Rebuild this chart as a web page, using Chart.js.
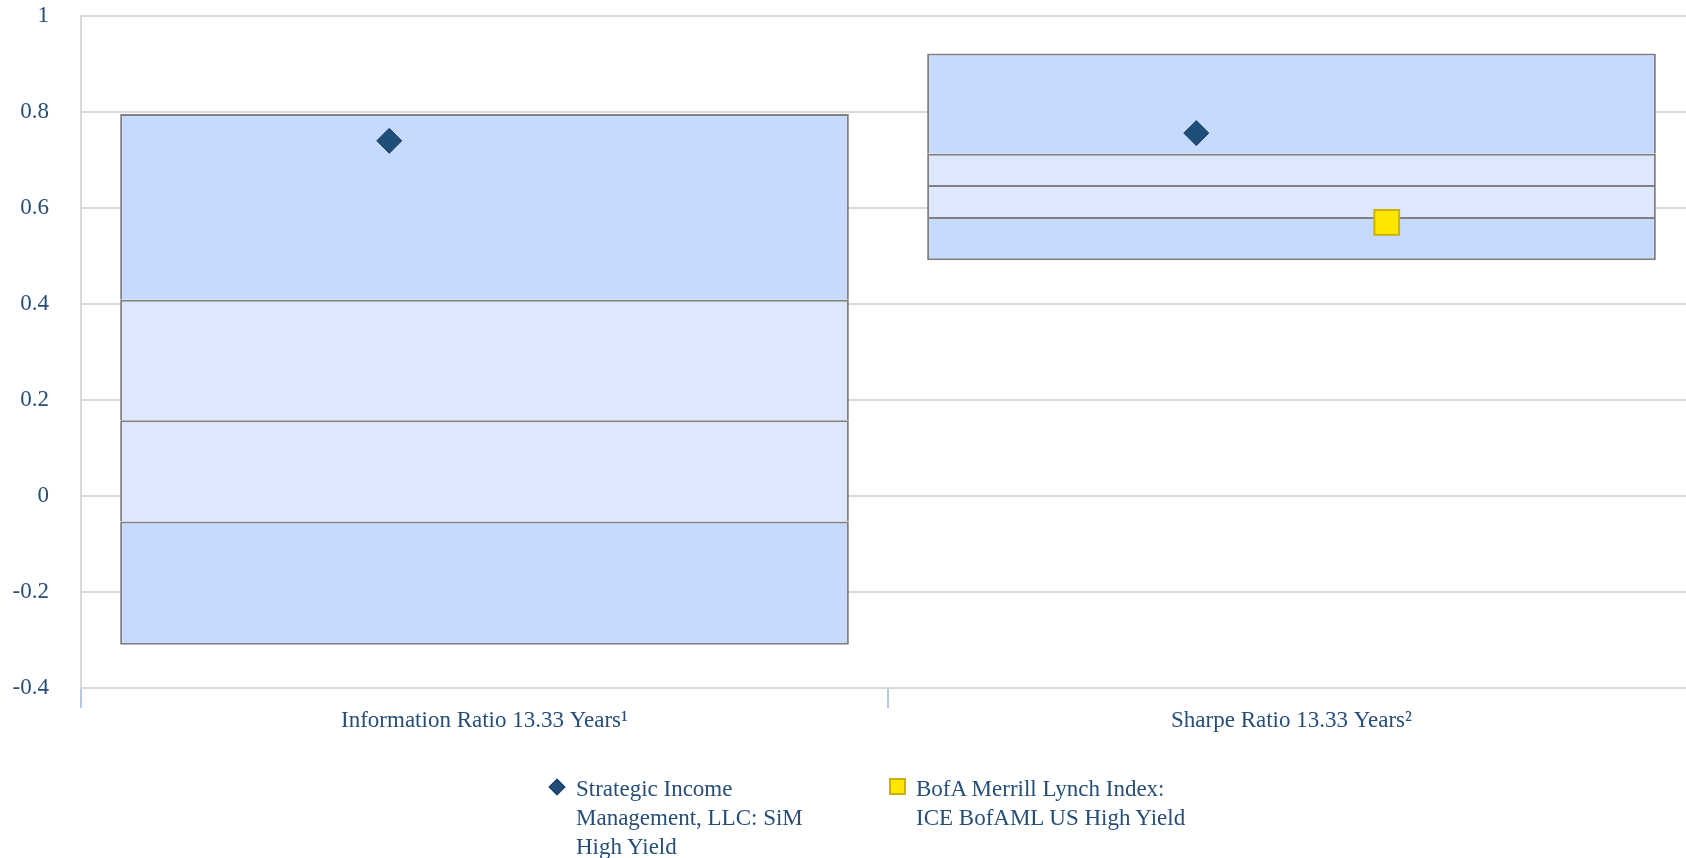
<!DOCTYPE html>
<html>
<head>
<meta charset="utf-8">
<script src="https://cdn.jsdelivr.net/npm/chart.js@4/dist/chart.umd.min.js"></script>
<style>
body { margin: 0; background: #fff; overflow: hidden; }
#wrap { position: relative; width: 1686px; height: 858px; overflow: hidden; }
canvas { display: block; }
.item { position: absolute; font-family: "Liberation Serif", serif; font-size: 23px; line-height: 29px; color: #264e78; }
.item .txt { position: absolute; left: 27px; top: 0; white-space: nowrap; }
.diamond { position: absolute; left: 2px; top: 7px; width: 10px; height: 10px; background: #1f4e79; border: 1px solid #183c60; transform: rotate(45deg); }
.square { position: absolute; left: 0; top: 4px; width: 13px; height: 13px; background: #ffe600; border: 2px solid #c9b300; }
</style>
</head>
<body>
<div id="wrap">
  <canvas id="chart" width="1695" height="858"></canvas>
  <div class="item" style="left:549px; top:774px;">
    <div class="diamond"></div>
    <div class="txt">Strategic Income<br>Management, LLC: SiM<br>High Yield</div>
  </div>
  <div class="item" style="left:889px; top:774px;">
    <div class="square"></div>
    <div class="txt">BofA Merrill Lynch Index:<br>ICE BofAML US High Yield</div>
  </div>
</div>
<script>
var categories = ['Information Ratio 13.33 Years\u00b9', 'Sharpe Ratio 13.33 Years\u00b2'];
var bandMin = [-0.310, 0.491];
var bandP25 = [-0.053, 0.581];
var bandMed = [0.158, 0.648];
var bandP75 = [0.409, 0.713];
var bandMax = [0.796, 0.922];
var simValues = [0.740, 0.756];
var indexValues = [null, 0.570];

var outerFill = '#c6d9fe';
var innerFill = '#dde7fe';
var textColor = '#264e78';

function band(lo, hi, color, skip) {
    var d = [];
    for (var i = 0; i < categories.length; i++) d.push([lo[i], hi[i]]);
    return {
        type: 'bar',
        data: d,
        backgroundColor: color,
        borderColor: '#808080',
        borderWidth: 2,
        borderSkipped: skip,
        grouped: false,
        categoryPercentage: 1,
        barPercentage: 0.903
    };
}

function markers(values, shift) {
    var pts = [];
    for (var i = 0; i < values.length; i++) {
        if (values[i] !== null) pts.push({x: i + shift, y: values[i]});
    }
    return pts;
}

function noPad(s) {
    s.paddingLeft = 0; s.paddingRight = 0; s.paddingTop = 0; s.paddingBottom = 0;
}

new Chart(document.getElementById('chart'), {
    data: {
        labels: categories,
        datasets: [
            {
                type: 'scatter',
                label: 'Strategic Income Management, LLC: SiM High Yield',
                xAxisID: 'xm',
                data: markers(simValues, -0.118),
                pointStyle: 'rectRot',
                pointRadius: 12.5,
                backgroundColor: '#1f4e79',
                borderColor: '#183c60',
                borderWidth: 1
            },
            {
                type: 'scatter',
                label: 'BofA Merrill Lynch Index: ICE BofAML US High Yield',
                xAxisID: 'xm',
                data: markers(indexValues, 0.118),
                pointStyle: 'rect',
                pointRadius: 17.5,
                backgroundColor: '#ffe600',
                borderColor: '#c9b300',
                borderWidth: 2
            },
            band(bandMin, bandP25, outerFill, false),
            band(bandP25, bandMed, innerFill, 'bottom'),
            band(bandMed, bandP75, innerFill, 'bottom'),
            band(bandP75, bandMax, outerFill, 'bottom')
        ]
    },
    options: {
        responsive: false,
        animation: false,
        layout: { autoPadding: false, padding: { top: 16, right: 0, left: 0, bottom: 0 } },
        plugins: { legend: { display: false }, tooltip: { enabled: false } },
        scales: {
            x: {
                type: 'category',
                afterFit: function(s) { s.height = 170; noPad(s); },
                grid: { drawOnChartArea: false, drawTicks: true, tickLength: 20, color: '#b4c7e7', lineWidth: 2 },
                border: { display: false },
                ticks: { color: textColor, font: { family: 'Liberation Serif', size: 23 }, padding: -1 }
            },
            xm: {
                type: 'linear',
                display: false,
                min: -0.5,
                max: 1.5,
                afterFit: noPad
            },
            y: {
                min: -0.4,
                max: 1,
                afterFit: function(s) { s.width = 81; noPad(s); },
                grid: { color: '#d9d9d9', lineWidth: 2, drawTicks: false },
                border: { display: true, color: '#d9d9d9', width: 2 },
                ticks: {
                    stepSize: 0.2,
                    padding: 32,
                    color: textColor,
                    font: { family: 'Liberation Serif', size: 23 },
                    callback: function(v) { return String(Math.round(v * 10) / 10); }
                }
            }
        }
    }
});
</script>
</body>
</html>
